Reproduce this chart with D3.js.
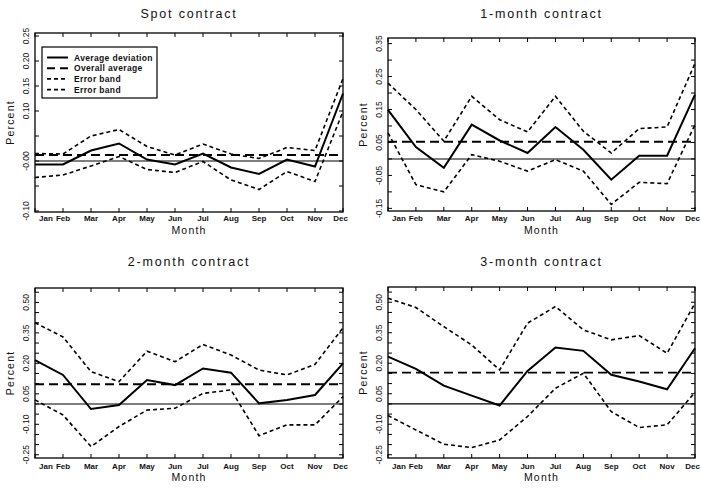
<!DOCTYPE html>
<html><head><meta charset="utf-8">
<script src="https://cdn.jsdelivr.net/npm/d3@7/dist/d3.min.js"></script>
<style>body{margin:0;background:#fff}svg{display:block}text{fill:#111}</style>
</head><body><svg id="c" width="701" height="488"></svg>
<script>
const months = ["Jan","Feb","Mar","Apr","May","Jun","Jul","Aug","Sep","Oct","Nov","Dec"];

const spotAvg   = [-0.007,-0.007,0.021,0.035,0.003,-0.007,0.015,-0.013,-0.026,0.003,-0.011,0.135];
const spotUpper = [0.015,0.014,0.050,0.063,0.029,0.012,0.034,0.014,0.005,0.027,0.021,0.165];
const spotLower = [-0.033,-0.028,-0.010,0.009,-0.017,-0.023,-0.001,-0.038,-0.057,-0.021,-0.041,0.099];
const spotOverall = 0.012;

const m1Avg   = [0.149,0.036,-0.027,0.104,0.056,0.018,0.097,0.028,-0.063,0.010,0.010,0.195];
const m1Upper = [0.230,0.150,0.054,0.190,0.119,0.082,0.190,0.084,0.018,0.092,0.097,0.290];
const m1Lower = [0.079,-0.078,-0.100,0.013,-0.007,-0.037,-0.002,-0.037,-0.138,-0.071,-0.075,0.104];
const m1Overall = 0.052;

const m2Avg   = [0.216,0.143,-0.025,-0.005,0.118,0.093,0.175,0.154,0.003,0.020,0.044,0.200];
const m2Upper = [0.400,0.330,0.159,0.110,0.260,0.208,0.293,0.241,0.167,0.143,0.195,0.375];
const m2Lower = [0.020,-0.054,-0.210,-0.111,-0.030,-0.021,0.052,0.069,-0.156,-0.103,-0.103,0.036];
const m2Overall = 0.097;

const m3Avg   = [0.233,0.172,0.090,0.041,-0.008,0.162,0.277,0.261,0.143,0.110,0.072,0.274];
const m3Upper = [0.520,0.474,0.380,0.290,0.167,0.397,0.479,0.364,0.315,0.336,0.249,0.495];
const m3Lower = [-0.057,-0.128,-0.198,-0.215,-0.177,-0.062,0.077,0.151,-0.038,-0.116,-0.103,0.057];
const m3Overall = 0.154;

const spotTicks = [-0.10,0.00,0.10,0.15,0.20,0.25];
const spotTickLabels = ["-0.10","-0.00","0.10","0.15","0.20","0.25"];
const m1Ticks = [-0.15,-0.05,0.05,0.15,0.25,0.35];
const m1TickLabels = ["-0.15","-0.05","0.05","0.15","0.25","0.35"];
const m23Ticks = [-0.25,-0.10,0.05,0.20,0.35,0.50];
const m23TickLabels = ["-0.25","-0.10","0.05","0.20","0.35","0.50"];

const titles = ["Spot contract","1-month contract","2-month contract","3-month contract"];
const legendLabels = ["Average deviation","Overall average","Error band","Error band"];

const panels = [
  {title:titles[0], avg:spotAvg, up:spotUpper, lo:spotLower, overall:spotOverall,
   ticks:spotTicks, tickLabels:spotTickLabels, minor:0.05,
   L:35,R:343,T:33,B:212, dom:[-0.102,0.256], legend:true, titleY:18, monthY:221, xlabY:234},
  {title:titles[1], avg:m1Avg, up:m1Upper, lo:m1Lower, overall:m1Overall,
   ticks:m1Ticks, tickLabels:m1TickLabels, minor:0.05,
   L:388,R:695,T:38,B:211, dom:[-0.158,0.367], legend:false, titleY:18, monthY:221, xlabY:234},
  {title:titles[2], avg:m2Avg, up:m2Upper, lo:m2Lower, overall:m2Overall,
   ticks:m23Ticks, tickLabels:m23TickLabels, minor:0.05,
   L:35,R:343,T:288,B:458, dom:[-0.266,0.571], legend:false, titleY:266, monthY:469, xlabY:481},
  {title:titles[3], avg:m3Avg, up:m3Upper, lo:m3Lower, overall:m3Overall,
   ticks:m23Ticks, tickLabels:m23TickLabels, minor:0.05,
   L:388,R:695,T:287,B:458, dom:[-0.266,0.575], legend:false, titleY:266, monthY:469, xlabY:481}
];

const svg = d3.select("#c");
const font = "'Liberation Sans', Arial, sans-serif";

panels.forEach(p => {
  const g = svg.append("g");
  const x = d3.scalePoint().domain(months).range([p.L, p.R]);
  const y = d3.scaleLinear().domain(p.dom).range([p.B, p.T]);
  const cx = (p.L + p.R) / 2;

  g.append("text").attr("x", cx).attr("y", p.titleY).attr("text-anchor","middle")
    .attr("font-family", font).attr("font-size", 12.5).attr("letter-spacing", 1.8)
    .attr("font-weight", 300).text(p.title);

  g.append("rect").attr("x", p.L).attr("y", p.T).attr("width", p.R - p.L).attr("height", p.B - p.T)
    .attr("fill","none").attr("stroke","#000").attr("stroke-width",1.3);

  const minorVals = d3.range(Math.ceil(p.dom[0]/p.minor)*p.minor, p.dom[1]+1e-9, p.minor);
  minorVals.forEach(v => {
    g.append("line").attr("x1",p.L).attr("x2",p.L+4).attr("y1",y(v)).attr("y2",y(v)).attr("stroke","#000").attr("stroke-width",1);
    g.append("line").attr("x1",p.R-4).attr("x2",p.R).attr("y1",y(v)).attr("y2",y(v)).attr("stroke","#000").attr("stroke-width",1);
  });
  months.forEach(m => {
    g.append("line").attr("x1",x(m)).attr("x2",x(m)).attr("y1",p.B).attr("y2",p.B-4).attr("stroke","#000").attr("stroke-width",1);
    g.append("line").attr("x1",x(m)).attr("x2",x(m)).attr("y1",p.T).attr("y2",p.T+4).attr("stroke","#000").attr("stroke-width",1);
  });

  p.ticks.forEach((v,i) => {
    g.append("text").attr("transform", `translate(${p.L-6},${y(v)}) rotate(-90)`)
      .attr("text-anchor","middle").attr("font-family", font).attr("font-size", 8.5)
      .text(p.tickLabels[i]);
  });

  months.forEach((m,i) => {
    let xx = x(m), anchor = "middle";
    if (i === 0) xx += 11;
    if (i === 11) { xx = Math.min(x(m) + 5, 700); anchor = "end"; }
    g.append("text").attr("x", xx).attr("y", p.monthY).attr("text-anchor",anchor)
      .attr("font-family", font).attr("font-size", 8).attr("font-weight","bold").text(m);
  });

  g.append("text").attr("x", cx).attr("y", p.xlabY).attr("text-anchor","middle")
    .attr("font-family", font).attr("font-size", 10.5).attr("letter-spacing", 1.2).text("Month");
  g.append("text").attr("transform", `translate(${p.L-21},${(p.T+p.B)/2}) rotate(-90)`)
    .attr("text-anchor","middle").attr("font-family", font).attr("font-size", 10.5).attr("letter-spacing", 1.2).text("Percent");

  g.append("line").attr("x1",p.L).attr("x2",p.R).attr("y1",y(0)).attr("y2",y(0)).attr("stroke","#000").attr("stroke-width",1.1);

  const line = d3.line().x((d,i)=>x(months[i])).y(d=>y(d));
  g.append("line").attr("x1",x(months[0])).attr("x2",x(months[11])).attr("y1",y(p.overall)).attr("y2",y(p.overall))
    .attr("stroke","#000").attr("stroke-width",1.9).attr("stroke-dasharray","9,5");
  [p.up, p.lo].forEach(arr => {
    g.append("path").attr("d", line(arr)).attr("fill","none").attr("stroke","#000")
      .attr("stroke-width",1.6).attr("stroke-dasharray","4,3");
  });
  g.append("path").attr("d", line(p.avg)).attr("fill","none").attr("stroke","#000").attr("stroke-width",2);

  if (p.legend) {
    const lx = 42, ly = 47, lw = 115, lh = 51;
    g.append("rect").attr("x",lx).attr("y",ly).attr("width",lw).attr("height",lh)
      .attr("fill","#fff").attr("stroke","#000").attr("stroke-width",1.2);
    const dashes = [null,"8,5","4,3","4,3"];
    const widths = [2,1.9,1.6,1.6];
    legendLabels.forEach((t,i) => {
      const yy = ly + 10.5 + i*10.7;
      const ln = g.append("line").attr("x1",lx+5).attr("x2",lx+26).attr("y1",yy).attr("y2",yy)
        .attr("stroke","#000").attr("stroke-width",widths[i]);
      if (dashes[i]) ln.attr("stroke-dasharray",dashes[i]);
      g.append("text").attr("x",lx+32).attr("y",yy+3).attr("font-family",font).attr("font-size",8.5)
        .attr("letter-spacing",0.35).attr("font-weight","bold").text(t);
    });
  }
});
</script></body></html>
